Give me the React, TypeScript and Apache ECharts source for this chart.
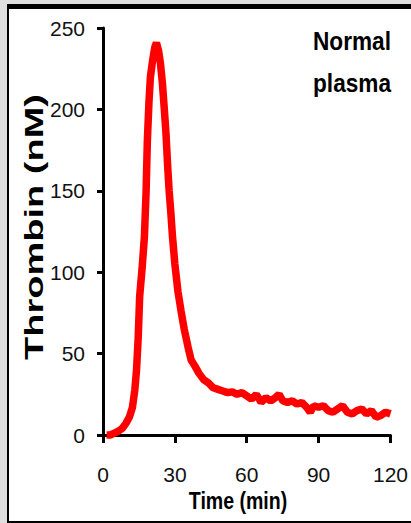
import React, { useEffect, useRef } from "react";
import * as echarts from "echarts";

const timeMin = [
  1.5, 3, 4.5, 6, 8, 9.5, 11, 12.3, 13.3, 14, 14.7, 15.3, 16.3, 17.3, 18, 18.5, 19.2, 19.8, 20.7, 21.6,
  22.3, 23.2, 24, 24.8, 25.6, 26.3, 27, 27.6, 28.3, 29, 30, 31.3, 32.6, 33.9, 35.5, 36.8, 38.5, 40,
  42, 44, 46, 48, 50, 52, 54, 56, 58, 60, 62, 64, 66, 68, 70, 72, 73.5, 75, 77, 79, 81, 83, 85, 86.5,
  88, 90, 92, 94, 96, 98, 100, 102, 104, 106, 108, 110, 112, 114, 116, 118, 120,
];
const thrombin = [
  0, 0, 1, 2, 4, 7, 11, 17, 28, 40, 60, 85, 102, 122, 150, 180, 205, 220, 230, 238,
  241, 236, 228, 216, 200, 185, 165, 150, 137, 122, 105, 88, 76, 65, 54, 46, 42, 38,
  34, 32, 29, 28, 27, 26, 26.5, 25, 26, 24, 22, 25, 20, 23, 21, 23, 25, 21, 20, 21, 19, 20, 17, 14,
  18, 17, 18, 15, 14, 16, 18, 14, 13, 15, 16, 13, 15, 11, 12, 14, 13,
];
const xTicks = { min: 0, max: 120, interval: 30 };
const yTicks = { min: 0, max: 250, interval: 50 };
const yTitle = "Thrombin (nM)";
const xTitle = "Time (min)";
const panelLabel = "Normal\nplasma";

const FONT = '"Liberation Sans", Arial, sans-serif';

export default function App() {
  const ref = useRef<HTMLDivElement>(null);
  useEffect(() => {
    if (!ref.current) return;
    const chart = echarts.init(ref.current, undefined, { renderer: "svg" });
    const data = timeMin.map((t, i) => [t, thrombin[i]]);
    chart.setOption({
      animation: false,
      grid: { left: 103, right: 18, top: 28, bottom: 88, containLabel: false },
      xAxis: {
        type: "value",
        min: xTicks.min,
        max: xTicks.max,
        interval: xTicks.interval,
        axisLine: { show: true, lineStyle: { color: "#000", width: 3 } },
        axisTick: { show: true, length: 8, lineStyle: { color: "#000", width: 3 } },
        axisLabel: { color: "#111", fontFamily: FONT, fontSize: 21, margin: 29 },
        splitLine: { show: false },
      },
      yAxis: {
        type: "value",
        min: yTicks.min,
        max: yTicks.max,
        interval: yTicks.interval,
        axisLine: { show: true, lineStyle: { color: "#000", width: 3 } },
        axisTick: { show: true, length: 6, lineStyle: { color: "#000", width: 3 } },
        axisLabel: { color: "#111", fontFamily: FONT, fontSize: 21, margin: 18 },
        splitLine: { show: false },
      },
      graphic: [
        {
          type: "text",
          x: 34,
          y: 227,
          rotation: Math.PI / 2,
          scaleX: 1.52,
          style: {
            text: yTitle,
            x: 0,
            y: 0,
            align: "center",
            verticalAlign: "middle",
            fill: "#000",
            font: `bold 25px ${FONT}`,
          },
        },
        {
          type: "text",
          x: 238,
          y: 501,
          scaleX: 0.85,
          style: {
            text: xTitle,
            x: 0,
            y: 0,
            align: "center",
            verticalAlign: "middle",
            fill: "#000",
            font: `bold 23px ${FONT}`,
          },
        },
        {
          type: "text",
          x: 352,
          y: 20,
          scaleX: 0.87,
          style: {
            text: panelLabel,
            x: 0,
            y: 0,
            align: "center",
            verticalAlign: "top",
            fill: "#000",
            lineHeight: 42,
            font: `bold 26px ${FONT}`,
          },
        },
      ],
      series: [
        {
          type: "line",
          data,
          showSymbol: false,
          clip: false,
          lineStyle: { color: "#ff0000", width: 7.5 },
          itemStyle: { color: "#ff0000" },
        },
      ],
    });
    return () => chart.dispose();
  }, []);
  return (
    <div style={{ position: "fixed", left: 0, top: 0, width: 411, height: 523, background: "#dedede" }}>
      <div
        style={{
          position: "absolute",
          left: 7,
          top: 4,
          width: 404,
          height: 519,
          boxSizing: "border-box",
          background: "#fff",
          borderLeft: "2px solid #000",
          borderTop: "5px solid #000",
          borderBottom: "2px solid #000",
        }}
      />
      <div ref={ref} style={{ position: "absolute", left: 0, top: 0, width: 411, height: 523 }} />
    </div>
  );
}
